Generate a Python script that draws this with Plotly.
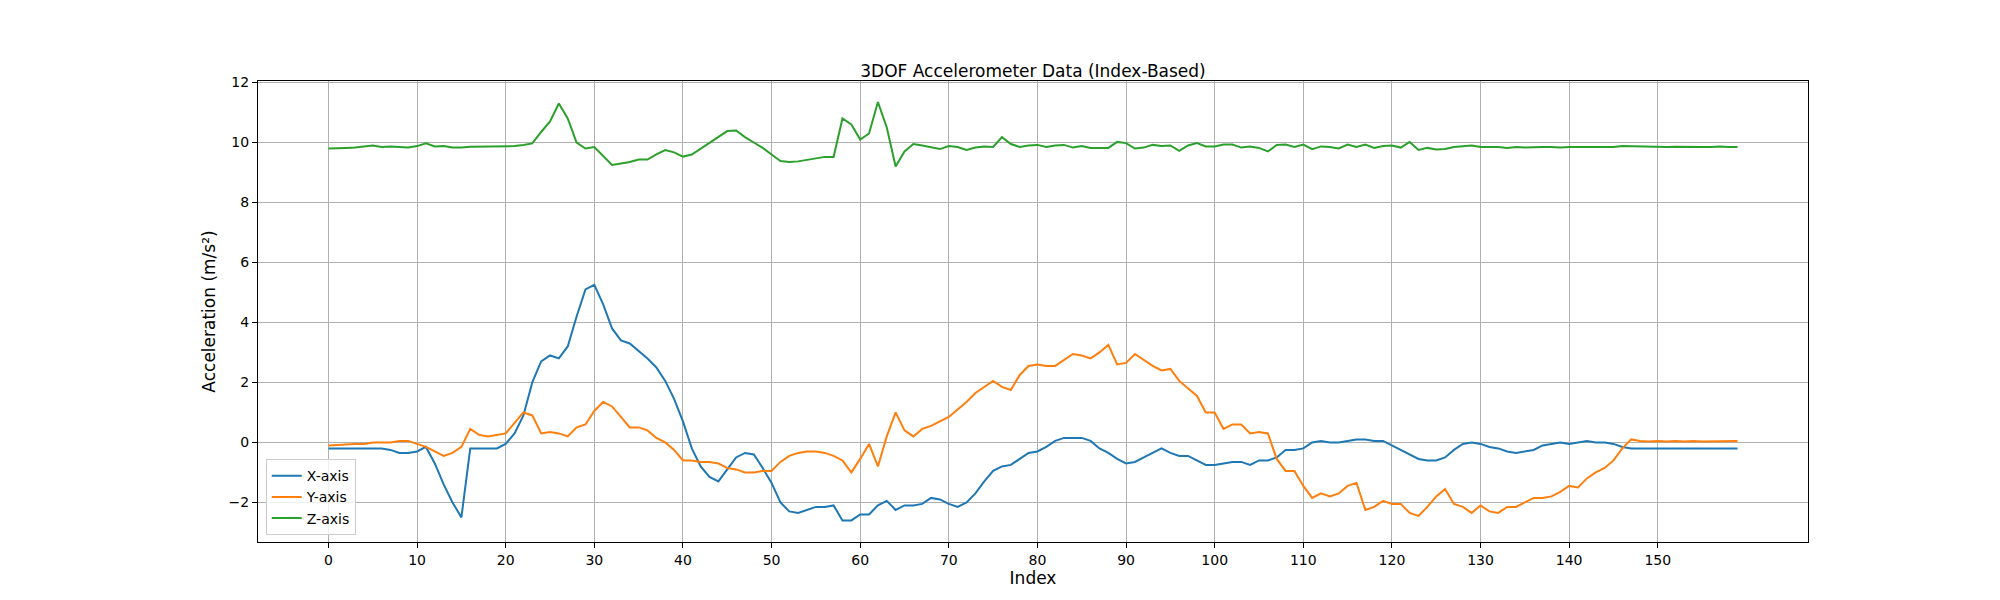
import plotly.graph_objects as go

idx = list(range(160))
x_axis = [-0.2,-0.2,-0.2,-0.2,-0.18,-0.2,-0.2,-0.25,-0.35,-0.35,
 -0.3,-0.15,-0.7,-1.4,-2.0,-2.5,-0.2,-0.2,-0.2,-0.2,
 -0.05,0.3,0.9,2.0,2.7,2.9,2.8,3.2,4.2,5.1,
 5.25,4.6,3.8,3.4,3.3,3.05,2.8,2.5,2.05,1.45,
 0.7,-0.2,-0.8,-1.15,-1.3,-0.9,-0.5,-0.35,-0.4,-0.85,
 -1.35,-2.0,-2.3,-2.35,-2.25,-2.15,-2.15,-2.1,-2.6,-2.6,
 -2.4,-2.4,-2.1,-1.95,-2.25,-2.1,-2.1,-2.05,-1.85,-1.9,
 -2.05,-2.15,-2.0,-1.7,-1.3,-0.95,-0.8,-0.75,-0.55,-0.35,
 -0.3,-0.15,0.05,0.15,0.15,0.15,0.05,-0.2,-0.35,-0.55,
 -0.7,-0.65,-0.5,-0.35,-0.2,-0.35,-0.45,-0.45,-0.6,-0.75,
 -0.75,-0.7,-0.65,-0.65,-0.75,-0.6,-0.6,-0.5,-0.25,-0.25,
 -0.2,0.0,0.05,0.0,0.0,0.05,0.1,0.1,0.05,0.05,
 -0.1,-0.25,-0.4,-0.55,-0.6,-0.6,-0.5,-0.25,-0.05,0.0,
 -0.05,-0.15,-0.2,-0.3,-0.35,-0.3,-0.25,-0.1,-0.05,0.0,
 -0.05,0.0,0.05,0.0,0.0,-0.05,-0.15,-0.2,-0.2,-0.2,
 -0.2,-0.2,-0.2,-0.22,-0.2,-0.22,-0.22,-0.2,-0.2,-0.2]
y_axis = [-0.1,-0.08,-0.08,-0.05,-0.05,0.0,0.0,0.0,0.05,0.05,
 -0.05,-0.15,-0.3,-0.45,-0.35,-0.15,0.45,0.25,0.2,0.25,
 0.3,0.65,1.0,0.9,0.3,0.35,0.3,0.2,0.5,0.6,
 1.05,1.35,1.2,0.85,0.5,0.5,0.4,0.15,0.0,-0.25,
 -0.6,-0.6,-0.65,-0.65,-0.7,-0.85,-0.9,-1.0,-1.0,-0.95,
 -0.95,-0.65,-0.45,-0.35,-0.3,-0.3,-0.35,-0.45,-0.6,-1.0,
 -0.55,-0.05,-0.8,0.2,1.0,0.4,0.2,0.45,0.55,0.7,
 0.85,1.1,1.35,1.65,1.85,2.05,1.85,1.75,2.25,2.55,
 2.6,2.55,2.55,2.75,2.95,2.9,2.8,3.0,3.25,2.6,
 2.65,2.95,2.75,2.55,2.4,2.45,2.05,1.8,1.55,1.0,
 1.0,0.45,0.6,0.6,0.3,0.35,0.3,-0.55,-0.95,-0.95,
 -1.45,-1.85,-1.7,-1.8,-1.7,-1.45,-1.35,-2.25,-2.15,-1.95,
 -2.05,-2.05,-2.35,-2.45,-2.15,-1.8,-1.55,-2.05,-2.15,-2.35,
 -2.1,-2.3,-2.35,-2.15,-2.15,-2.0,-1.85,-1.85,-1.8,-1.65,
 -1.45,-1.5,-1.2,-1.0,-0.85,-0.6,-0.2,0.1,0.05,0.03,
 0.05,0.03,0.05,0.03,0.05,0.03,0.03,0.05,0.05,0.05]
z_axis = [9.8,9.8,9.82,9.83,9.87,9.9,9.85,9.87,9.85,9.83,
 9.88,9.97,9.87,9.88,9.83,9.83,9.86,9.86,9.86,9.86,
 9.88,9.88,9.92,9.97,10.35,10.7,11.3,10.8,10.0,9.8,
 9.85,9.55,9.25,9.3,9.35,9.43,9.43,9.6,9.75,9.67,
 9.53,9.6,9.8,10.0,10.2,10.38,10.4,10.18,10.0,9.82,
 9.6,9.38,9.35,9.37,9.42,9.48,9.52,9.52,10.8,10.6,
 10.1,10.3,11.35,10.5,9.2,9.7,9.95,9.9,9.85,9.78,
 9.88,9.85,9.75,9.83,9.87,9.85,10.18,9.95,9.85,9.9,
 9.92,9.85,9.9,9.92,9.83,9.88,9.82,9.83,9.82,10.02,
 9.98,9.8,9.83,9.92,9.88,9.9,9.72,9.9,9.98,9.87,
 9.87,9.93,9.93,9.83,9.87,9.82,9.7,9.92,9.93,9.85,
 9.93,9.78,9.87,9.85,9.8,9.93,9.85,9.93,9.82,9.88,
 9.9,9.83,10.02,9.75,9.82,9.77,9.78,9.85,9.88,9.9,
 9.85,9.85,9.85,9.82,9.85,9.83,9.85,9.85,9.85,9.83,
 9.85,9.85,9.85,9.85,9.87,9.85,9.88,9.87,9.88,9.87,
 9.85,9.85,9.86,9.85,9.86,9.85,9.85,9.87,9.85,9.85]
series = [("X-axis", x_axis, "#1f77b4"), ("Y-axis", y_axis, "#ff7f0e"), ("Z-axis", z_axis, "#2ca02c")]
xticks = list(range(0, 151, 10))
yticks = [-2, 0, 2, 4, 6, 8, 10, 12]

fig = go.Figure()
for name, vals, col in series:
    fig.add_trace(go.Scatter(x=idx, y=vals, mode="lines", name=name, line=dict(color=col, width=2)))

ax = dict(showgrid=True, gridcolor="#b0b0b0", gridwidth=1, showline=True, linecolor="black", mirror=True,
          ticks="outside", ticklen=5, tickcolor="black", zeroline=False, tickfont=dict(size=14, color="black"))
fig.update_layout(
    width=2000, height=600, plot_bgcolor="white", paper_bgcolor="white",
    font=dict(family="DejaVu Sans", color="black", size=14),
    margin=dict(l=250, r=200, t=73, b=66),
    title=dict(text="3DOF Accelerometer Data (Index-Based)", x=0.5125, xanchor="center", y=0.885, yanchor="bottom", font=dict(size=17)),
    xaxis=dict(range=[-7.95, 166.95], tickvals=xticks, title=dict(text="Index", standoff=4), **ax),
    yaxis=dict(range=[-3.32, 12.05], tickvals=yticks, title=dict(text="Acceleration (m/s²)", standoff=8), **ax),
    legend=dict(x=0.005, y=0.015, xanchor="left", yanchor="bottom", bordercolor="#cccccc", borderwidth=1,
                bgcolor="rgba(255,255,255,0.8)", font=dict(size=14)),
)
fig.write_html("out.html")
